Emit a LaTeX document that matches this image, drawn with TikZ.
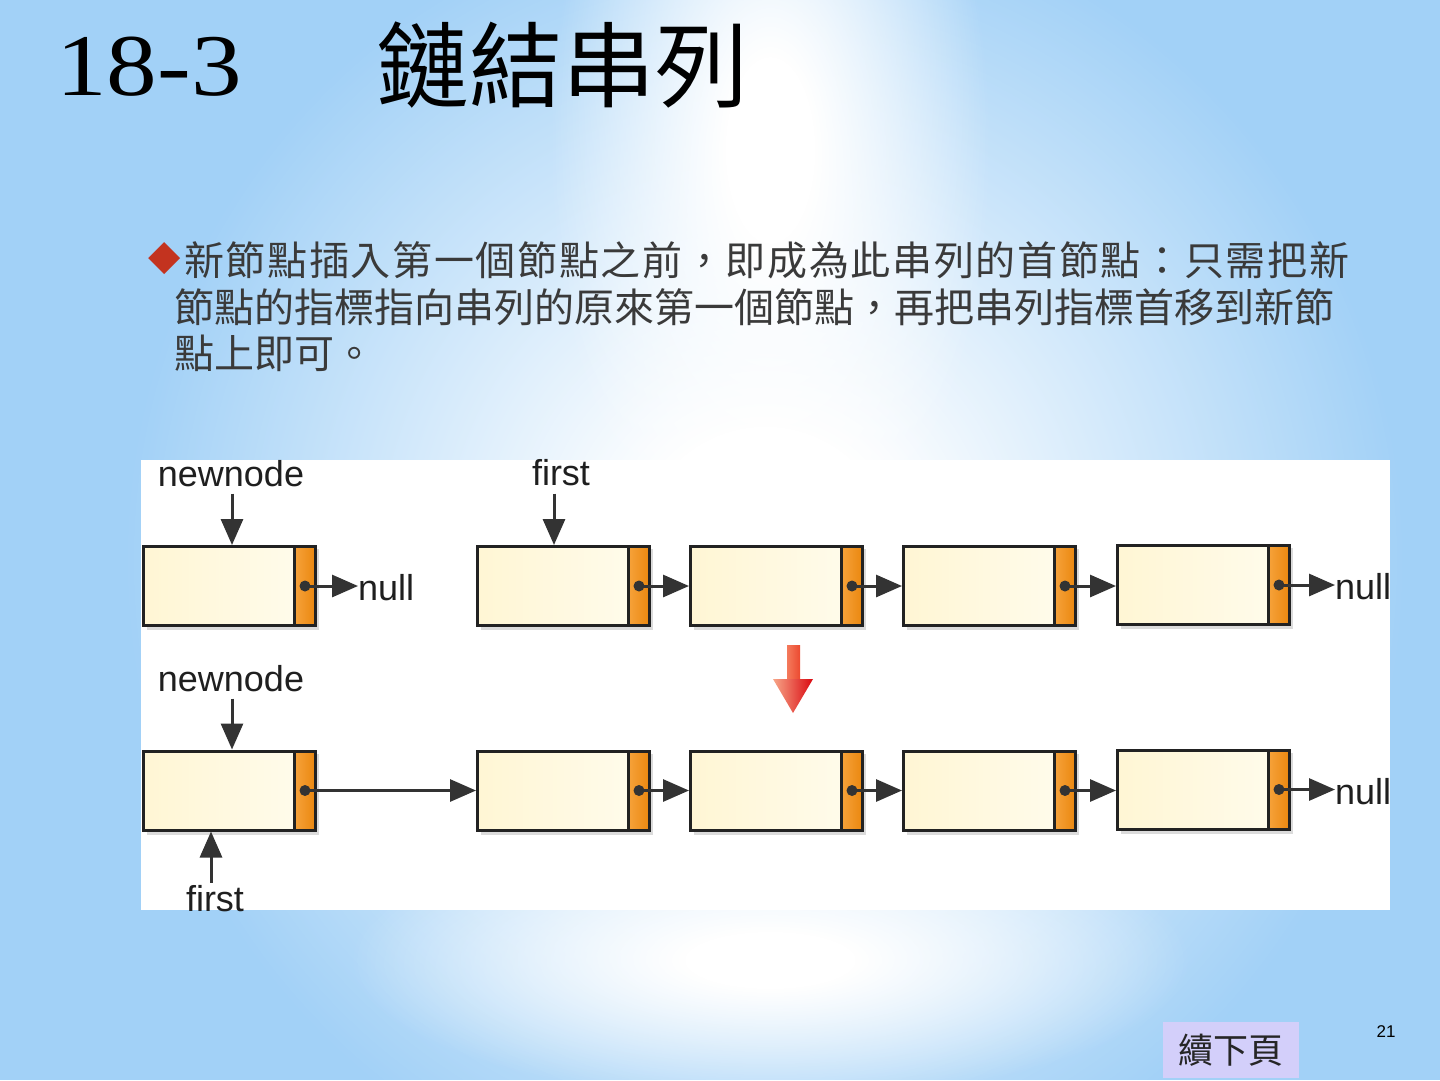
\documentclass[tikz,border=0pt]{standalone}
\usepackage{fontspec}
\setmainfont{Liberation Serif}
\newfontfamily\cjk{Noto Sans CJK TC}
\newfontfamily\lsans{Liberation Sans}
\newfontfamily\dejavu{DejaVu Sans}
\usetikzlibrary{arrows.meta,fadings}
\definecolor{bgc}{RGB}{162,209,247}
\definecolor{cream1}{HTML}{FFF6D4}
\definecolor{cream2}{HTML}{FFFBEA}
\definecolor{orng1}{HTML}{F6A23A}
\definecolor{orng2}{HTML}{EA870F}
\definecolor{boxc}{HTML}{222222}
\definecolor{linkc}{HTML}{333333}
\definecolor{bullc}{HTML}{C3331F}
\definecolor{btnc}{HTML}{D3CFFA}
\definecolor{txtc}{HTML}{3A3A3A}
\definecolor{redl}{HTML}{F7A688}
\definecolor{redr}{HTML}{DA0810}
\definecolor{shl}{HTML}{F47A5C}
\definecolor{shr}{HTML}{EC4A30}
\pgfdeclareradialshading{glowfs}{\pgfpoint{0bp}{0bp}}{color(0bp)=(pgftransparent!0); color(5bp)=(pgftransparent!0); color(25bp)=(pgftransparent!100); color(50bp)=(pgftransparent!100)}
\pgfdeclarefading{glowfade}{\pgfuseshading{glowfs}}
\def\spreadit#1{\ifx\relax#1\else#1\hfill\expandafter\spreadit\fi}
\newcommand\spreadline[2]{\makebox[#1][s]{\spreadit#2\relax\unskip}}
\tikzset{
  databox/.style={draw=boxc, line width=3pt, minimum width=151pt, minimum height=79pt, inner sep=0pt, left color=cream1, right color=cream2},
  ptrbox/.style={draw=boxc, line width=3pt, minimum width=21pt, minimum height=79pt, inner sep=0pt, outer sep=0pt, left color=orng1, right color=orng2, anchor=west},
  link/.style={draw=linkc, line width=3pt, -{Triangle[length=26pt,width=22pt]}},
  lbl/.style={font=\lsans\fontsize{36}{36}\selectfont, text=black!88, inner sep=0pt},
  cjktext/.style={font=\cjk\fontsize{40}{40}\selectfont, text=txtc, inner sep=0pt, anchor=west},
  shadowc/.style={fill=black, opacity=0.14},
  glowfill/.style={fill=white, path fading=glowfade},
}
\begin{document}
\begin{tikzpicture}[x=1pt,y=-1pt]
\useasboundingbox (0,0) rectangle (1440,1080);
% background
\fill[bgc] (0,0) rectangle (1440,1080);
\fill[glowfill] (765,560) ellipse [x radius=640, y radius=660];
\fill[glowfill] (770,150) ellipse [x radius=220, y radius=460];
\fill[glowfill] (770,960) ellipse [x radius=420, y radius=140];
% title
\node[anchor=base west, inner sep=0pt] (t1) at (56,95) {\scalebox{1.15}[1]{\fontsize{88}{88}\selectfont 18-3}};
\node[anchor=west, inner sep=0pt] (t2) at (376,65) {\cjk\fontsize{93}{93}\selectfont 鏈結串列};
% bullet text
\node[anchor=west, inner sep=0pt, text=bullc] (bul) at (148,259) {\dejavu\fontsize{42}{42}\selectfont ◆};
\node[cjktext] (l1) at (184,260) {\spreadline{1165pt}{新節點插入第一個節點之前，即成為此串列的首節點：只需把新}};
\node[cjktext] (l2) at (174,307) {節點的指標指向串列的原來第一個節點，再把串列指標首移到新節};
\node[cjktext] (l3) at (174,353) {點上即可。};
% diagram panel
\fill[white] (141,460) rectangle (1390,910);
% shadows
\foreach \x/\y in {219/586,553/586,766/586,979/586,1193/585,219/790.5,553/790.5,766/790.5,979/790.5,1193/789.5}{
  \fill[shadowc] ({\x-72},{\y-37}) rectangle ({\x+100},{\y+44});
}
% top row
\foreach \i/\x/\y in {1/219/586,2/553/586,3/766/586,4/979/586,5/1193/585}{
  \node[databox] (a\i) at (\x,\y) {};
  \node[ptrbox] (pa\i) at ([xshift=-1.5pt]a\i.east) {};
}
% bottom row
\foreach \i/\x/\y in {1/219/790.5,2/553/790.5,3/766/790.5,4/979/790.5,5/1193/789.5}{
  \node[databox] (b\i) at (\x,\y) {};
  \node[ptrbox] (pb\i) at ([xshift=-1.5pt]b\i.east) {};
}
% null labels
\node[lbl, anchor=base west] (n1) at (358,600) {null};
\node[lbl, anchor=base west] (n2) at (1335,599) {null};
\node[lbl, anchor=base west] (n3) at (1335,804) {null};
% pointer arrows top
\draw[link] (pa1.center) -- (n1.west |- pa1.center);
\draw[link] (pa2.center) -- (a3.west);
\draw[link] (pa3.center) -- (a4.west);
\draw[link] (pa4.center) -- (a5.west |- pa4.center);
\draw[link] (pa5.center) -- (n2.west |- pa5.center);
% pointer arrows bottom
\draw[link] (pb1.center) -- (b2.west);
\draw[link] (pb2.center) -- (b3.west);
\draw[link] (pb3.center) -- (b4.west);
\draw[link] (pb4.center) -- (b5.west |- pb4.center);
\draw[link] (pb5.center) -- (n3.west |- pb5.center);
% dots
\foreach \p in {pa1,pa2,pa3,pa4,pa5,pb1,pb2,pb3,pb4,pb5}{
  \fill[linkc] (\p.center) circle (5.5);
}
% labels with arrows
\node[lbl, anchor=base] (nn1) at (231,486) {newnode};
\node[lbl, anchor=base] (f1) at (561,485) {first};
\node[lbl, anchor=base] (nn2) at (231,691) {newnode};
\node[lbl, anchor=base] (f2) at (215,911) {first};
\coordinate (nn1a) at ([shift={(1pt,-7pt)}]nn1.south);
\coordinate (f1a) at ([shift={(-7pt,-8pt)}]f1.south);
\coordinate (nn2a) at ([shift={(1pt,-7pt)}]nn2.south);
\coordinate (f2a) at ([shift={(-4pt,2pt)}]f2.north);
\draw[link] (nn1a) -- (nn1a |- a1.north);
\draw[link] (f1a) -- (f1a |- a2.north);
\draw[link] (nn2a) -- (nn2a |- b1.north);
\draw[link] (f2a) -- (f2a |- b1.south);
% red arrow
\shade[left color=shl, right color=shr] (787,645) -- (800,645) -- (800,681) -- (787,681) -- cycle;
\shade[left color=redl, right color=redr] (773,679) -- (813,679) -- (793,713) -- cycle;
% button and page number
\node[fill=btnc, minimum width=136pt, minimum height=56pt, inner sep=0pt] (btn) at (1231,1050) {\cjk\fontsize{35}{35}\selectfont\color{black!85}續下頁};
\node[inner sep=0pt] (pg) at (1386,1032) {\lsans\fontsize{17}{17}\selectfont 21};
\end{tikzpicture}
\end{document}
